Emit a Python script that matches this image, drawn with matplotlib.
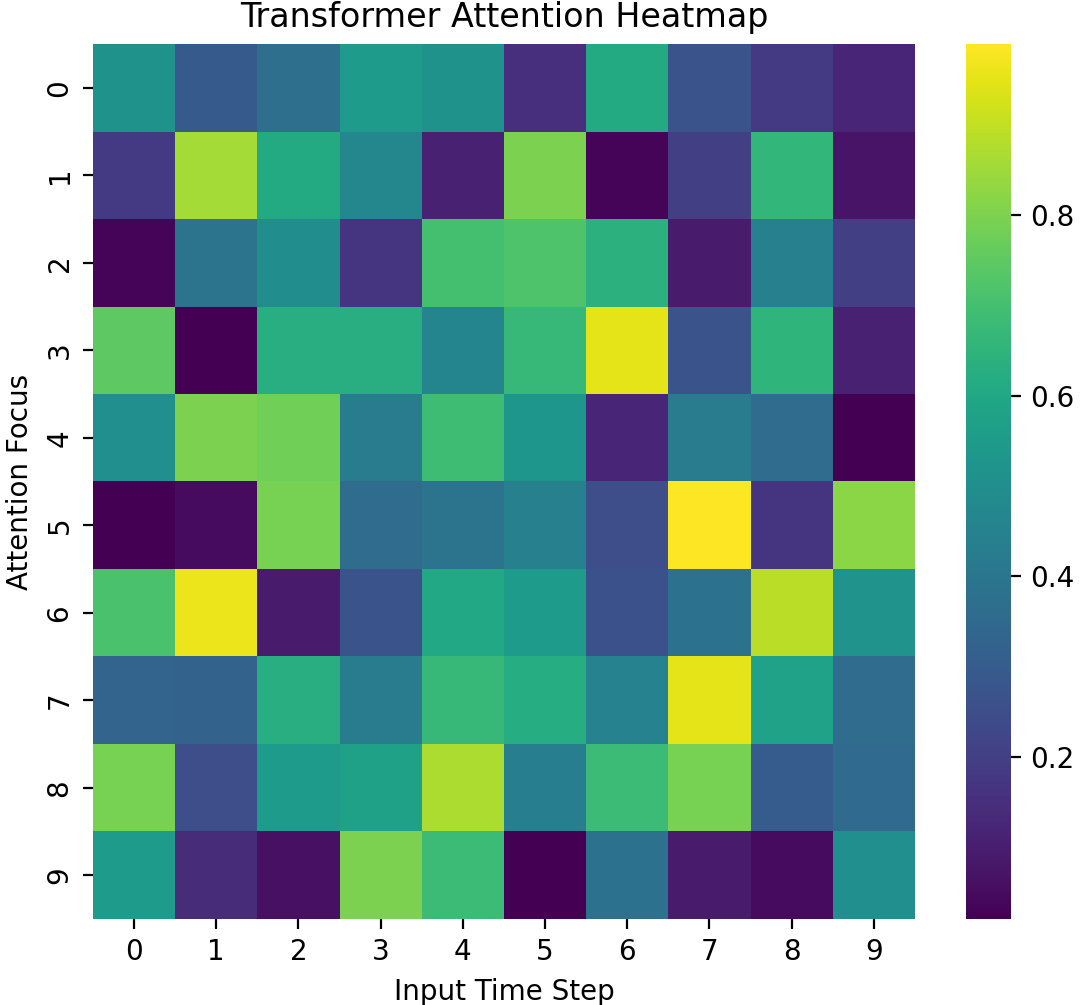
import numpy as np
import matplotlib
matplotlib.use("Agg")
import matplotlib.pyplot as plt
import seaborn as sns

# Attention weights: rows = attention focus, columns = input time step
row_labels = [str(i) for i in range(10)]
col_labels = [str(i) for i in range(10)]

row0 = [0.51, 0.29, 0.37, 0.55, 0.51, 0.15, 0.61, 0.27, 0.18, 0.12]
row1 = [0.18, 0.86, 0.61, 0.47, 0.11, 0.80, 0.03, 0.20, 0.66, 0.07]
row2 = [0.03, 0.39, 0.49, 0.17, 0.70, 0.72, 0.64, 0.09, 0.44, 0.20]
row3 = [0.75, 0.02, 0.63, 0.63, 0.46, 0.67, 0.95, 0.27, 0.65, 0.11]
row4 = [0.50, 0.80, 0.78, 0.42, 0.69, 0.53, 0.12, 0.42, 0.36, 0.02]
row5 = [0.02, 0.05, 0.79, 0.36, 0.39, 0.44, 0.25, 0.99, 0.17, 0.82]
row6 = [0.71, 0.96, 0.09, 0.27, 0.60, 0.55, 0.26, 0.38, 0.89, 0.52]
row7 = [0.33, 0.32, 0.63, 0.42, 0.67, 0.62, 0.45, 0.95, 0.58, 0.36]
row8 = [0.79, 0.25, 0.55, 0.57, 0.87, 0.43, 0.68, 0.79, 0.30, 0.35]
row9 = [0.55, 0.14, 0.06, 0.80, 0.68, 0.02, 0.38, 0.09, 0.05, 0.50]

attention = np.array([row0, row1, row2, row3, row4,
                      row5, row6, row7, row8, row9])

fig = plt.figure(figsize=(5.4, 5.025), dpi=200)
ax = fig.add_axes([0.0861, 0.0856, 0.7611, 0.8706])
cax = fig.add_axes([0.8944, 0.0856, 0.0417, 0.8706])

sns.heatmap(attention, cmap="viridis", ax=ax, cbar_ax=cax,
            xticklabels=col_labels, yticklabels=row_labels)

ax.set_title("Transformer Attention Heatmap")
ax.set_xlabel("Input Time Step")
ax.set_ylabel("Attention Focus")

fig.savefig("out.png", dpi=200)
